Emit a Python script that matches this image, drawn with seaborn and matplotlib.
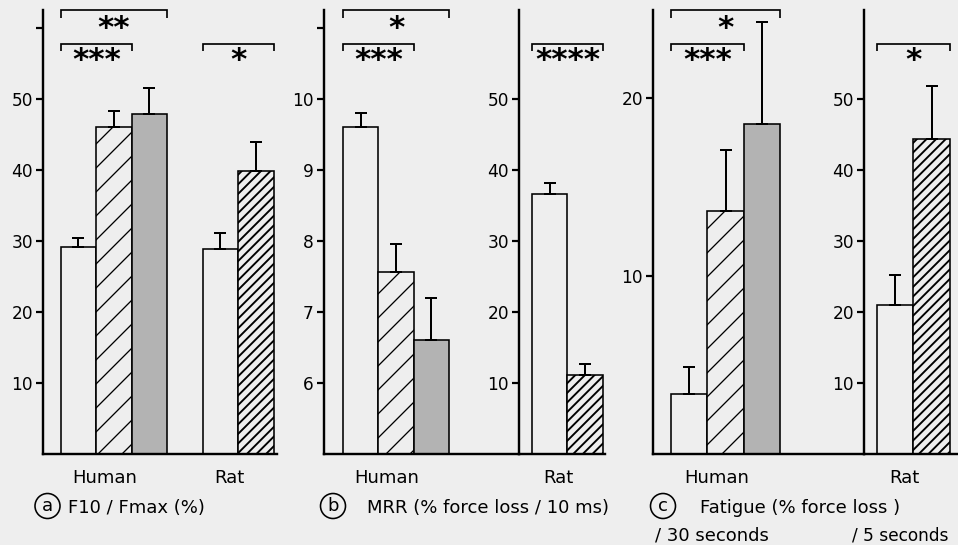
import matplotlib
matplotlib.use("Agg")
import matplotlib.pyplot as plt
from matplotlib import transforms
from matplotlib.patches import Ellipse
import seaborn as sns
import pandas as pd

W, H, DPI = 958, 545, 144


def pt(px):
    return px * 72.0 / DPI


def fx(px):
    return px / W


def fy(py):
    return 1.0 - py / H


# ------------------------------------------------------------------ data
groups = ["Human", "Rat"]
conditions = ["Control", "Group A", "Group B"]

f10_human = [29.2, 46.1, 47.9]
f10_human_err = [1.2, 2.2, 3.6]
f10_rat = [28.9, 39.8]
f10_rat_err = [2.2, 4.1]

mrr_human = [9.61, 7.56, 6.60]
mrr_human_err = [0.19, 0.40, 0.59]
mrr_rat = [36.6, 11.1]
mrr_rat_err = [1.6, 1.5]

fatigue_human = [3.36, 13.64, 18.55]
fatigue_human_err = [1.53, 3.48, 5.75]
fatigue_rat = [21.0, 44.3]
fatigue_rat_err = [4.2, 7.5]

ticks_a = [10, 20, 30, 40, 50, 60]
ticklabels_a = ["10", "20", "30", "40", "50", ""]
ticks_b_human = [6, 7, 8, 9, 10, 11]
ticklabels_b_human = ["6", "7", "8", "9", "10", ""]
ticks_rat = [10, 20, 30, 40, 50]
ticklabels_rat = ["10", "20", "30", "40", "50"]
ticks_c_human = [10, 20]
ticklabels_c_human = ["10", "20"]

panel_letters = ["a", "b", "c"]
captions = ["F10 / Fmax (%)", "MRR (% force loss / 10 ms)", "Fatigue (% force loss )"]
sub_captions = ["/ 30 seconds", "/ 5 seconds"]

# significance: (group, first bar, last bar, stars, level)
sig_a = [("Human", 0, 2, "**", "upper"), ("Human", 0, 1, "***", "lower"),
         ("Rat", 0, 1, "*", "lower")]
sig_b_human = [("Human", 0, 2, "*", "upper"), ("Human", 0, 1, "***", "lower")]
sig_b_rat = [("Rat", 0, 1, "****", "lower")]
sig_c_human = [("Human", 0, 2, "*", "upper"), ("Human", 0, 1, "***", "lower")]
sig_c_rat = [("Rat", 0, 1, "*", "lower")]

# ------------------------------------------------------------------ style
sns.set_style("ticks")
plt.rcParams["font.family"] = ["DejaVu Sans"]
plt.rcParams["text.color"] = "black"
plt.rcParams["axes.labelcolor"] = "black"
plt.rcParams["xtick.color"] = "black"
plt.rcParams["ytick.color"] = "black"
plt.rcParams["hatch.color"] = "black"
plt.rcParams["hatch.linewidth"] = pt(1.5)

BG = "#eeeeee"
GRAY = "#b3b3b3"
palette = {conditions[0]: BG, conditions[1]: BG, conditions[2]: GRAY}
HATCH = {"Human": "//", "Rat": "/////"}
HATCH_LW = {"Human": pt(1.3), "Rat": pt(1.9)}

fig = plt.figure(figsize=(W / DPI, H / DPI), dpi=DPI, facecolor=BG)

BASE, TOP = 454, 10
TXT = pt(18)


def make_ax(left_px, right_px):
    ax = fig.add_axes([fx(left_px), fy(BASE), (right_px - left_px) / W, (BASE - TOP) / H])
    ax.set_facecolor("none")
    return ax


def frame(group, vals, errs):
    return pd.DataFrame({"group": group, "condition": conditions[:len(vals)],
                         "value": vals, "err": errs})


def draw(ax, df, order, xlim, ylim, yticks, yticklabels, sigs):
    sns.barplot(data=df, x="group", y="value", hue="condition", order=order,
                hue_order=conditions, palette=palette, saturation=1, width=0.75,
                errorbar=None, legend=False, edgecolor="black",
                linewidth=pt(1.6), ax=ax)
    bars = {}
    for p in ax.patches:
        xc = p.get_x() + p.get_width() / 2
        ci = int(round(xc))
        hi = int(round((xc - ci) / 0.25)) + 1
        g = order[ci]
        bars[(g, hi)] = p
        if hi == 1:
            p.set_hatch(HATCH[g])
            if hasattr(p, "set_hatch_linewidth"):
                p.set_hatch_linewidth(HATCH_LW[g])
    for _, r in df.iterrows():
        hi = conditions.index(r["condition"])
        p = bars[(r["group"], hi)]
        xc = p.get_x() + p.get_width() / 2
        ax.errorbar([xc], [r["value"]], yerr=[[0], [r["err"]]], fmt="none",
                    ecolor="black", elinewidth=pt(2), capsize=pt(6),
                    capthick=pt(2), clip_on=False, zorder=3)
    ax.set_xlim(*xlim)
    ax.set_ylim(*ylim)
    ax.set_xticks([])
    ax.set_yticks(yticks)
    ax.set_yticklabels(yticklabels)
    ax.set_xlabel("")
    ax.set_ylabel("")
    sns.despine(ax=ax)
    for s in ("left", "bottom"):
        ax.spines[s].set_linewidth(pt(2.4))
        ax.spines[s].set_color("black")
    ax.tick_params(axis="y", direction="out", length=pt(7), width=pt(2.2),
                   pad=pt(3), labelsize=pt(17), colors="black")

    tr = transforms.blended_transform_factory(ax.transData, fig.transFigure)
    # group labels
    for gi, g in enumerate(order):
        cents = [p.get_x() + p.get_width() / 2 for (gg, _), p in bars.items() if gg == g]
        xm = sum(cents) / len(cents)
        ax.text(xm, fy(483), g, transform=transforms.offset_copy(tr, fig=fig, x=-9, units="dots"),
                ha="center", va="baseline", fontsize=TXT, color="black", clip_on=False)
    # significance brackets
    for g, i0, i1, stars, level in sigs:
        p0, p1 = bars[(g, i0)], bars[(g, i1)]
        x1 = p0.get_x()
        x2 = p1.get_x() + p1.get_width()
        ytop, drop, ystar = (10, 8, 37) if level == "upper" else (44, 7, 69)
        ax.plot([x1, x1, x2, x2], [fy(ytop + drop), fy(ytop), fy(ytop), fy(ytop + drop)],
                transform=tr, color="black", lw=pt(1.7), clip_on=False,
                solid_joinstyle="miter", solid_capstyle="butt")
        ax.text((x1 + x2) / 2, fy(ystar), stars, transform=tr, ha="center",
                va="baseline", fontsize=pt(31), fontweight="bold", color="black",
                clip_on=False)


# ------------------------------------------------------------------ panels
ax_a = make_ax(43, 277)
df_a = pd.concat([frame("Human", f10_human, f10_human_err),
                  frame("Rat", f10_rat, f10_rat_err)], ignore_index=True)
draw(ax_a, df_a, groups, (-0.5, 1.148), (0, 62.5), ticks_a, ticklabels_a, sig_a)

ax_bh = make_ax(324, 519)
draw(ax_bh, frame("Human", mrr_human, mrr_human_err), ["Human"], (-0.51, 0.87),
     (5, 11.25), ticks_b_human, ticklabels_b_human, sig_b_human)

ax_br = make_ax(519, 605)
draw(ax_br, frame("Rat", mrr_rat, mrr_rat_err), ["Rat"], (-0.467, 0.14),
     (0, 62.5), ticks_rat, ticklabels_rat, sig_b_rat)

ax_ch = make_ax(653, 864)
draw(ax_ch, frame("Human", fatigue_human, fatigue_human_err), ["Human"], (-0.499, 0.953),
     (0, 24.97), ticks_c_human, ticklabels_c_human, sig_c_human)

ax_cr = make_ax(864, 958)
draw(ax_cr, frame("Rat", fatigue_rat, fatigue_rat_err), ["Rat"], (-0.465, 0.182),
     (0, 62.5), ticks_rat, ticklabels_rat, sig_c_rat)

# ------------------------------------------------------------------ captions
circle_x = [47.5, 333, 663]
caption_x = [68, 367, 700]
for letter, cx, tx, cap in zip(panel_letters, circle_x, caption_x, captions):
    fig.add_artist(Ellipse((fx(cx), fy(506)), 25 / W, 25 / H, transform=fig.transFigure,
                           fill=False, edgecolor="black", linewidth=pt(1.6)))
    fig.text(fx(cx), fy(511), letter, ha="center", va="baseline", fontsize=TXT)
    fig.text(fx(tx), fy(513), cap, ha="left", va="baseline", fontsize=TXT)

for sx, sub, fs in zip([655, 852], sub_captions, [TXT, pt(17)]):
    fig.text(fx(sx), fy(540), sub, ha="left", va="baseline", fontsize=fs)

fig.savefig("out.png", dpi=DPI, facecolor=BG)
